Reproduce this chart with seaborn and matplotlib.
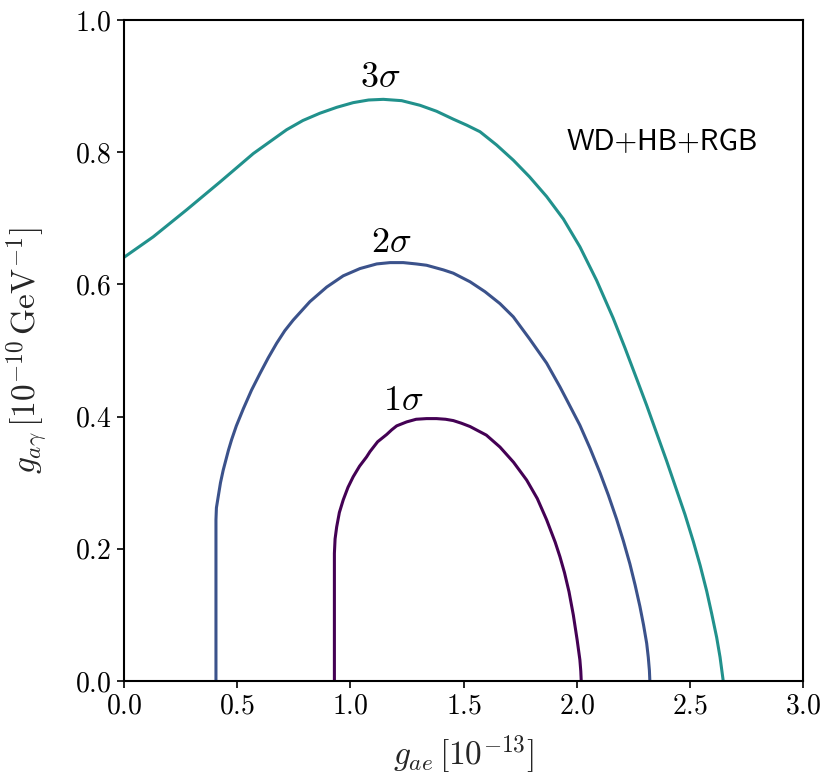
import matplotlib
matplotlib.use("Agg")
import matplotlib.pyplot as plt
import pandas as pd
import seaborn as sns

# Confidence contours in the (g_ae, g_ag) plane, traced as (x, y) vertices
sigma1_gae = [0.929, 0.929, 0.932, 0.939, 0.951, 0.968, 0.989, 1.012, 1.040, 1.071,
              1.086, 1.120, 1.160, 1.182, 1.204, 1.248, 1.290, 1.336, 1.380, 1.420,
              1.454, 1.490, 1.528, 1.600, 1.660, 1.720, 1.778, 1.825, 1.866, 1.904,
              1.925, 1.945, 1.965, 1.984, 2.001, 2.013, 2.017, 2.019]
sigma1_gag = [0.000, 0.193, 0.215, 0.233, 0.255, 0.274, 0.293, 0.309, 0.325, 0.339,
              0.347, 0.362, 0.373, 0.380, 0.386, 0.392, 0.396, 0.397, 0.397, 0.396,
              0.394, 0.390, 0.385, 0.372, 0.354, 0.331, 0.304, 0.276, 0.244, 0.210,
              0.188, 0.164, 0.135, 0.100, 0.062, 0.032, 0.015, 0.000]

sigma2_gae = [0.406, 0.406, 0.408, 0.416, 0.426, 0.438, 0.461, 0.475, 0.496, 0.527,
              0.563, 0.600, 0.637, 0.674, 0.710, 0.747, 0.821, 0.895, 0.968, 1.042,
              1.116, 1.175, 1.233, 1.290, 1.336, 1.410, 1.454, 1.528, 1.594, 1.660,
              1.719, 1.790, 1.866, 1.925, 1.954, 2.013, 2.058, 2.102, 2.139, 2.175,
              2.205, 2.234, 2.257, 2.278, 2.294, 2.308, 2.315, 2.320, 2.322]
sigma2_gag = [0.000, 0.244, 0.262, 0.279, 0.300, 0.319, 0.349, 0.365, 0.386, 0.412,
              0.440, 0.465, 0.489, 0.511, 0.530, 0.546, 0.574, 0.596, 0.613, 0.624,
              0.631, 0.633, 0.633, 0.631, 0.629, 0.622, 0.617, 0.604, 0.589, 0.571,
              0.551, 0.518, 0.481, 0.445, 0.426, 0.387, 0.352, 0.315, 0.281, 0.245,
              0.212, 0.177, 0.145, 0.113, 0.085, 0.057, 0.036, 0.016, 0.000]

sigma3_gae = [0.000, 0.129, 0.277, 0.424, 0.571, 0.718, 0.790, 0.865, 0.940, 1.012,
              1.080, 1.145, 1.226, 1.307, 1.380, 1.454, 1.513, 1.572, 1.645, 1.719,
              1.790, 1.866, 1.940, 2.013, 2.087, 2.160, 2.212, 2.264, 2.308, 2.352,
              2.396, 2.440, 2.477, 2.514, 2.544, 2.573, 2.595, 2.617, 2.632, 2.646]
sigma3_gag = [0.641, 0.672, 0.713, 0.755, 0.798, 0.834, 0.848, 0.859, 0.868, 0.875,
              0.879, 0.880, 0.878, 0.871, 0.862, 0.850, 0.841, 0.831, 0.811, 0.788,
              0.763, 0.733, 0.699, 0.657, 0.606, 0.549, 0.504, 0.457, 0.417, 0.375,
              0.333, 0.289, 0.252, 0.211, 0.175, 0.136, 0.102, 0.066, 0.036, 0.000]

level_names = ["1sigma", "2sigma", "3sigma"]
level_texts = [r"$1\sigma$", r"$2\sigma$", r"$3\sigma$"]
level_colors = ["#440154", "#3b528b", "#21918c"]
label_gae = [1.233, 1.182, 1.130]
label_gag = [0.423, 0.662, 0.912]

x_ticks = [0.0, 0.5, 1.0, 1.5, 2.0, 2.5, 3.0]
y_ticks = [0.0, 0.2, 0.4, 0.6, 0.8, 1.0]

frames = []
for name, xs, ys in zip(level_names,
                        [sigma1_gae, sigma2_gae, sigma3_gae],
                        [sigma1_gag, sigma2_gag, sigma3_gag]):
    frames.append(pd.DataFrame({"gae": xs, "gag": ys, "level": name}))
contours = pd.concat(frames, ignore_index=True)

sns.set_theme(style="ticks")
plt.rcParams.update({
    "font.family": "serif",
    "font.serif": ["cmr10"],
    "mathtext.fontset": "cm",
    "axes.formatter.use_mathtext": True,
    "axes.unicode_minus": False,
    "axes.edgecolor": "black",
    "xtick.color": "black",
    "ytick.color": "black",
})

fig = plt.figure(figsize=(8.24, 7.76), dpi=100)
ax = fig.add_axes([0.1505, 0.1224, 0.8245, 0.8518])

sns.lineplot(data=contours, x="gae", y="gag", hue="level",
             hue_order=level_names, palette=level_colors,
             sort=False, estimator=None, legend=False,
             linewidth=2.2, ax=ax)
for line in ax.get_lines():
    line.set_solid_joinstyle("round")

for txt, lx, ly in zip(level_texts, label_gae, label_gag):
    ax.text(lx, ly, txt, fontsize=26, ha="center", va="center", color="black")

ax.text(1.956, 0.814, "WD+HB+RGB", fontsize=21, family="cmss10",
        ha="left", va="center", color="black")

ax.set_xlim(0, 3)
ax.set_ylim(0, 1)
ax.set_xticks(x_ticks)
ax.set_yticks(y_ticks)
ax.tick_params(direction="out", length=5, width=1.2, labelsize=20, pad=4)
for sp in ax.spines.values():
    sp.set_linewidth(1.5)
    sp.set_color("black")

ax.set_xlabel(r"$g_{ae}\,[10^{-13}]$", fontsize=24)
ax.set_ylabel(r"$g_{a\gamma}\,[10^{-10}\,\mathrm{GeV}^{-1}]$", fontsize=24)
ax.xaxis.set_label_coords(0.5, -0.08)
ax.yaxis.set_label_coords(-0.11, 0.5)

fig.savefig("out.png", dpi=100)
